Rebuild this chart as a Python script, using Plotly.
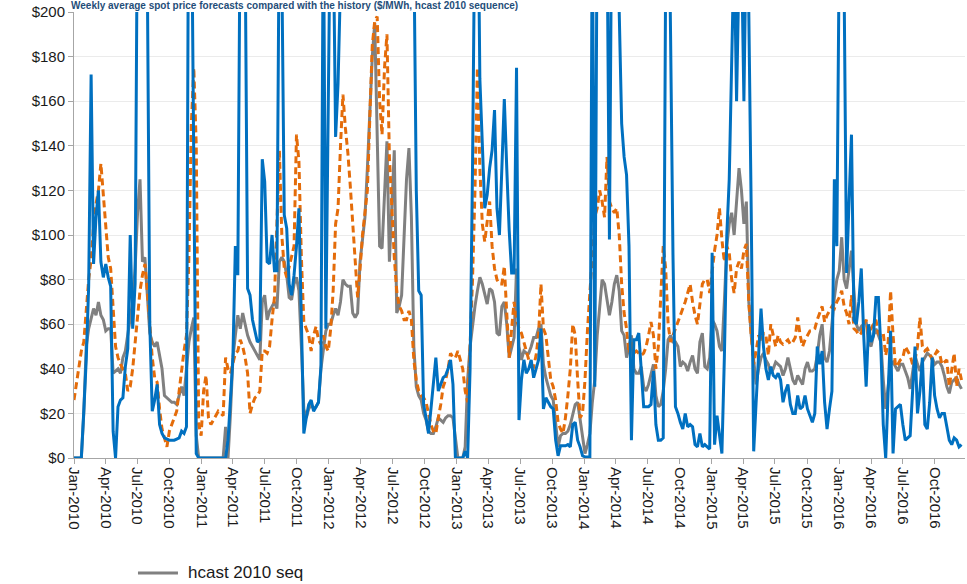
import plotly.graph_objects as go
import pandas as pd

# Weekly series, Jan-2010 .. Dec-2016 (364 weeks)
start_date = "2010-01-01"

blue_actual = [
    0, 0, 0, 0, 21, 44, 77, 172, 87, 108,
    120, 88, 81, 87, 81, 77, 12, 0, 23, 26,
    27, 41, 49, 100, 58, 78, 260, 320, 300, 280,
    215, 60, 21, 26, 33, 15, 11, 9, 8.5, 8,
    8, 8, 8.5, 9, 12, 11, 14, 300, 260, 110,
    2, 0, 0, 0, 0, 0, 0, 0, 0, 0,
    0, 0, 0, 8, 25, 45, 95, 82, 250, 300,
    230, 76, 73, 62, 57, 52, 53, 134, 124, 88,
    87, 100, 84, 84, 250, 220, 109, 103, 78, 73,
    82, 95, 112, 62, 11, 18, 24, 26, 21, 23,
    25, 41, 250, 58, 150, 260, 240, 144, 168, 250,
    280, 320, 350, 300, 330, 380, 360, 300, 280, 320,
    360, 400, 350, 300, 320, 340, 300, 280, 310, 330,
    300, 280, 260, 300, 320, 280, 260, 250, 240, 230,
    120, 75, 73, 24, 18, 11, 22, 35, 45, 30,
    33, 36, 37, 40, 44, 33, 0, 0, 0, 0,
    3, 0, 40, 130, 250, 280, 170, 140, 112, 118,
    130, 138, 156, 112, 100, 130, 161, 130, 102, 83,
    83, 175, 17, 35, 44, 38, 40, 44, 36, 40,
    44, 58, 22, 27, 25, 23, 22, 8, 1, 5.5,
    5.5, 5.5, 6, 5, 15, 16, 8, 5, 1, 0.5,
    0.5, 0.5, 250, 32, 250, 300, 280, 260, 240, 98,
    260, 300, 250, 210, 150, 135, 127, 95, 8, 53,
    53, 56, 40, 23, 23, 23, 24, 39, 15, 8,
    8, 9, 220, 280, 190, 90, 23, 20, 16, 13,
    20, 14, 15, 14, 6, 5, 11, 5, 6, 5,
    4, 92, 6, 19, 10, 2, 45, 100, 125, 190,
    230, 160, 220, 230, 160, 240, 200, 110, 3, 25,
    45, 67, 50, 40, 35, 41, 37, 36, 38, 35,
    25, 30, 33, 24, 20, 20, 28, 22, 23, 28,
    22, 19, 16, 20, 50, 42, 48, 25, 13, 22,
    30, 125, 95, 230, 280, 210, 83, 115, 145, 62,
    60, 70, 85, 55, 32, 60, 52, 55, 72, 72,
    50, 15, 0, 30, 57, 2, 22, 23, 24, 15,
    8, 9, 10, 30, 50, 20, 30, 45, 15, 13,
    25, 45, 28, 22, 18, 20, 20, 14, 8, 6,
    9, 8, 5, 6,
]

orange_forecast = [
    26, 34, 42, 48, 52, 68, 80, 89, 104, 114,
    120, 132, 118, 100, 90, 85, 65, 50, 45, 42,
    40, 38, 30, 32, 40, 52, 62, 75, 82, 87,
    75, 60, 45, 36, 34, 22, 13, 9, 5, 12,
    15, 18, 21, 30, 40, 48, 55, 90, 150, 175,
    140, 15, 10, 30, 37, 18, 15, 17, 19, 21,
    20, 19, 45, 40, 38, 42, 47, 48, 53, 50,
    45, 38, 20, 24, 27, 28, 30, 48, 48, 47,
    50, 62, 72, 105, 138, 100, 85, 81, 86, 90,
    95, 145, 133, 90, 61, 58, 55, 48, 55, 59,
    53, 51, 55, 50, 48, 58, 75, 105, 112, 140,
    163, 148, 137, 122, 105, 90, 72, 85, 100, 110,
    120, 153, 185, 196, 198, 160, 145, 175, 190, 135,
    110, 90, 75, 68, 66, 62, 62, 66, 62, 44,
    35, 30, 28, 27, 25, 20, 15, 12, 11, 18,
    24, 32, 35, 40, 47, 45, 45, 48, 44, 40,
    30, 25, 50, 80, 120, 175, 130, 105, 97, 105,
    115, 95, 85, 80, 78, 78, 86, 65, 45, 58,
    70, 62, 58, 56, 52, 47, 44, 42, 41, 46,
    55, 78, 58, 55, 45, 35, 32, 26, 16, 13,
    11, 18, 28, 40, 60, 55, 35, 18, 20, 35,
    57, 75, 95, 108, 112, 120, 115, 108, 135, 115,
    112, 110, 112, 100, 78, 65, 58, 47, 52, 47,
    48, 47, 46, 47, 50, 55, 61, 55, 40, 50,
    75, 95, 85, 60, 52, 55, 58, 61, 64, 67,
    70, 74, 78, 70, 64, 60, 70, 78, 80, 80,
    74, 85, 93, 100, 112, 98, 88, 95, 92, 80,
    74, 85, 88, 85, 93, 96, 70, 55, 42, 48,
    55, 52, 56, 55, 46, 60, 55, 50, 55, 52,
    51, 52, 53, 51, 52, 54, 63, 55, 50, 53,
    55, 57, 57, 58, 62, 65, 68, 61, 64, 66,
    68, 67, 70, 72, 75, 68, 65, 60, 73, 58,
    57, 55, 56, 60, 62, 56, 58, 60, 62, 56,
    55, 56, 46, 52, 75, 55, 41, 42, 44, 45,
    50, 48, 46, 42, 44, 50, 63, 50, 48, 49,
    47, 44, 46, 48, 47, 42, 43, 44, 32, 40,
    47, 32, 40, 35,
]

gray_hcast = [
    0, 0, 0, 0, 20, 50, 58, 63, 67, 64,
    70, 64, 62, 57, 58, 58, 38, 39, 40, 38,
    45, 48, 55, 62, 70, 85, 110, 125, 88, 90,
    75, 56, 52, 50, 52, 45, 40, 28, 27, 26,
    25, 25, 24, 28, 32, 28, 40, 52, 58, 63,
    10, 0, 0, 0, 0, 0, 0, 0, 0, 0,
    0, 0, 14, 0, 20, 45, 55, 64, 58, 65,
    60, 55, 52, 50, 48, 46, 44, 70, 73, 62,
    66, 68, 70, 67, 88, 90, 88, 82, 72, 71,
    78, 81, 75, 50, 22, 18, 22, 24, 22, 23,
    25, 40, 50, 57, 60, 60, 64, 67, 64, 70,
    80, 78, 77, 77, 65, 63, 65, 88, 98, 108,
    130, 153, 180, 195, 150, 95, 94, 120, 142, 88,
    110, 138, 65, 68, 73, 100, 125, 139, 108, 50,
    32, 28, 26, 20, 17, 12, 11, 11, 14, 18,
    17, 16, 18, 19, 19, 18, 9, 0, 0, 0,
    5, 35, 50, 60, 68, 75, 81, 78, 74, 69,
    76, 75, 70, 56, 55, 68, 70, 60, 45, 50,
    54, 85, 50, 44, 48, 47, 47, 50, 54, 54,
    58, 60, 42, 36, 32, 28, 26, 15, 5, 10,
    11, 11, 12, 15, 20, 24, 25, 18, 10, 2,
    6, 11, 25, 35, 55, 68, 80, 78, 70, 64,
    70, 78, 82, 75, 57, 55, 45, 50, 55, 40,
    38, 38, 41, 32, 30, 33, 38, 42, 28, 23,
    24, 30, 40, 53, 55, 52, 52, 50, 41, 43,
    42, 39, 43, 46, 40, 38, 52, 56, 41, 40,
    45, 62, 60, 57, 50, 48, 70, 95, 105, 110,
    100, 115, 130, 120, 105, 115, 70, 55, 45, 33,
    40, 45, 47, 44, 42, 38, 40, 43, 42, 41,
    37, 40, 45, 40, 35, 33, 37, 35, 33, 40,
    43, 39, 39, 40, 46, 55, 60, 45, 43, 48,
    60, 72, 80, 84, 99, 80, 76, 85, 93, 75,
    60, 57, 59, 60, 61, 52, 50, 55, 58, 55,
    52, 35, 22, 32, 42, 43, 41, 39, 42, 42,
    39, 36, 31, 38, 46, 42, 39, 43, 45, 47,
    46, 45, 42, 43, 43, 41, 37, 32, 29, 34,
    35, 36, 33, 31,
]

assert len(blue_actual) == 364, len(blue_actual)
assert len(orange_forecast) == 364, len(orange_forecast)
assert len(gray_hcast) == 364, len(gray_hcast)

title_text = "Weekly average spot price forecasts compared with the history ($/MWh, hcast 2010 sequence)"
legend_label = "hcast 2010 seq"

dates = pd.date_range(start_date, periods=len(gray_hcast), freq="7D")

GRAY = "#808080"
fig = go.Figure()
fig.add_trace(go.Scatter(x=dates, y=gray_hcast, mode="lines", name=legend_label,
                         showlegend=False, line=dict(color=GRAY, width=3)))
fig.add_trace(go.Scatter(x=dates, y=orange_forecast, mode="lines", name="forecast",
                         showlegend=False,
                         line=dict(color="#E46C0A", width=3, dash="7px,4px")))
fig.add_trace(go.Scatter(x=dates, y=blue_actual, mode="lines", name="actual",
                         showlegend=False,
                         line=dict(color="#0070C0", width=3)))

tick_font = dict(family="Liberation Sans Narrow, Liberation Sans, Arial, sans-serif",
                 size=15, color="#1a1a1a")

fig.update_layout(
    width=967, height=584,
    margin=dict(l=74, r=2, t=12, b=126),
    paper_bgcolor="white", plot_bgcolor="white",
    showlegend=False,
    shapes=[dict(type="line", xref="paper", yref="paper",
                 x0=0.0718, x1=0.1167, y0=-0.2578, y1=-0.2578,
                 line=dict(color=GRAY, width=3))],
    annotations=[
        dict(text="<b>" + title_text + "</b>",
             xref="paper", yref="paper", x=-0.005, y=1, xanchor="left", yanchor="top",
             yshift=13, showarrow=False, borderpad=0,
             font=dict(family="Liberation Sans, Arial, sans-serif", size=10, color="#1F4E79")),
        dict(text=legend_label, xref="paper", yref="paper", x=0.1257, y=-0.2578,
             xanchor="left", yanchor="middle", showarrow=False,
             font=dict(family="Liberation Sans, Arial, sans-serif", size=17, color="#1a1a1a")),
    ],
)
fig.update_xaxes(
    type="date", range=["2010-01-01", "2016-12-26"],
    tick0="2010-01-01", dtick="M3", tickformat="%b-%Y", tickangle=90,
    showgrid=False, showline=True, linecolor="#A6A6A6", linewidth=1,
    ticks="outside", ticklen=5, tickcolor="#A6A6A6", tickfont=tick_font,
)
fig.update_yaxes(
    range=[0, 200], dtick=20, tickprefix="$",
    showgrid=True, gridcolor="#EBEBEB", gridwidth=1, zeroline=False,
    showline=True, linecolor="#A6A6A6", linewidth=1,
    ticks="outside", ticklen=5, tickcolor="#A6A6A6", tickfont=tick_font,
)

fig.write_html("out.html")
